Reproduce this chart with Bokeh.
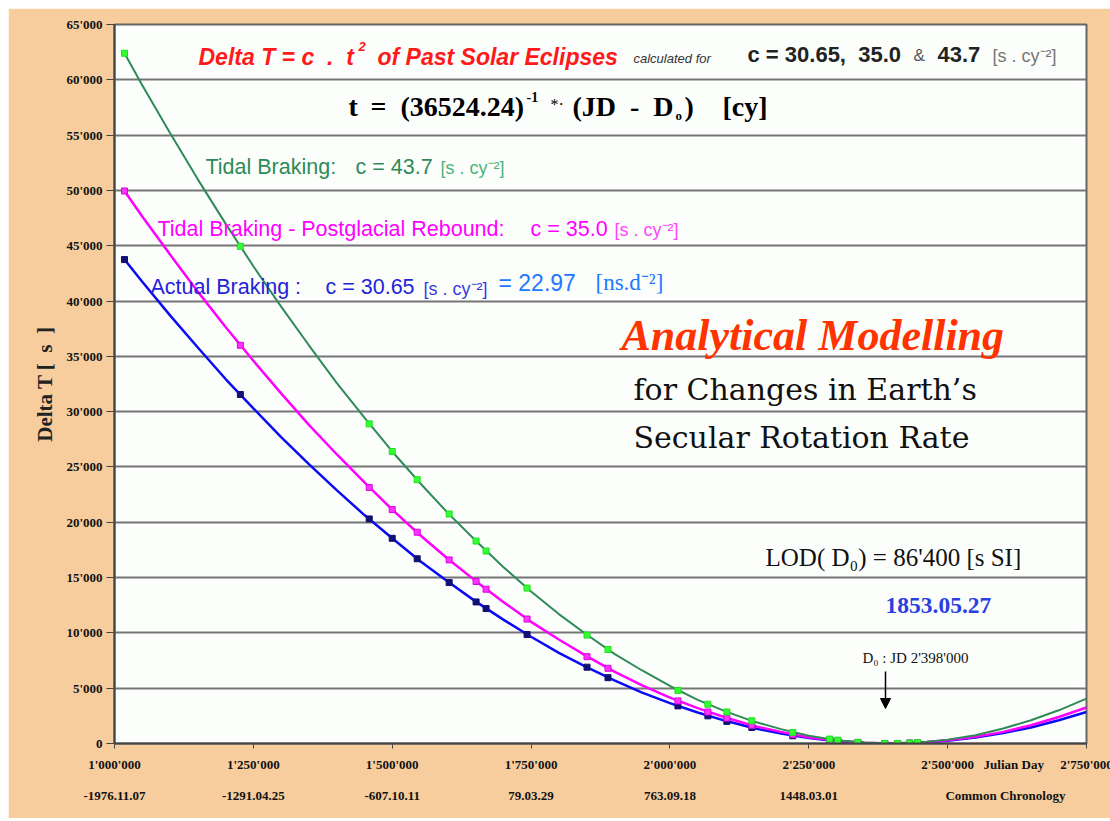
import math
from bokeh.plotting import figure
from bokeh.models import Range1d, FixedTicker, Label, Arrow, NormalHead, LinearAxis
from bokeh.embed import file_html
from bokeh.resources import INLINE

# ---------------- data ----------------
y_ticks = [0, 5000, 10000, 15000, 20000, 25000, 30000, 35000, 40000, 45000, 50000, 55000, 60000, 65000]
y_tick_labels = ["0", "5'000", "10'000", "15'000", "20'000", "25'000", "30'000", "35'000",
                 "40'000", "45'000", "50'000", "55'000", "60'000", "65'000"]
x_ticks = [1000000, 1250000, 1500000, 1750000, 2000000, 2250000, 2500000, 2750000]
x_tick_labels = ["1'000'000", "1'250'000", "1'500'000", "1'750'000", "2'000'000",
                 "2'250'000", "2'500'000", "2'750'000"]
date_labels = ["-1976.11.07", "-1291.04.25", "-607.10.11", "79.03.29", "763.09.18", "1448.03.01"]
x_title = "Julian Day"
x2_title = "Common Chronology"

curve_jd = [1018000, 1050000, 1100000, 1150000, 1200000, 1250000, 1300000, 1350000, 1400000,
            1450000, 1500000, 1550000, 1600000, 1650000, 1700000, 1750000, 1800000, 1850000,
            1900000, 1950000, 2000000, 2050000, 2100000, 2150000, 2200000, 2250000, 2300000,
            2350000, 2398000, 2450000, 2500000, 2550000, 2600000, 2650000, 2700000, 2750000]
green_curve = [62400, 59500, 55200, 51000, 47000, 43150, 39500, 36000, 32600, 29450, 26400, 23550,
               20850, 18350, 15950, 13750, 11700, 9850, 8100, 6600, 5200, 3950, 2900, 2000,
               1300, 700, 300, 80, 0, 90, 350, 750, 1350, 2100, 3000, 4050]
pink_curve = [49950, 47650, 44200, 40850, 37650, 34600, 31650, 28800, 26150, 23600, 21150, 18850,
              16700, 14700, 12800, 11000, 9400, 7900, 6500, 5250, 4150, 3200, 2350, 1600,
              1050, 550, 250, 60, 0, 70, 300, 600, 1050, 1650, 2400, 3250]
blue_curve = [43750, 41750, 38700, 35800, 32950, 30300, 27700, 25250, 22900, 20650, 18550, 16500,
              14650, 12850, 11200, 9650, 8200, 6900, 5700, 4600, 3650, 2800, 2050, 1400,
              900, 500, 200, 50, 0, 60, 250, 550, 950, 1450, 2100, 2850]

eclipse_jd = [1018000, 1226600, 1458600, 1500000, 1545000, 1602500, 1651000, 1669000, 1742800,
              1850700, 1888500, 2014400, 2068300, 2102500, 2147500, 2221200, 2287800, 2302200,
              2338100, 2386700, 2410000, 2431600, 2446000]
green_pts = [62400, 44950, 28900, 26400, 23850, 20750, 18300, 17400, 14050, 9800, 8500, 4800,
             3550, 2850, 2050, 1000, 400, 300, 100, 0, 0, 40, 80]
pink_pts = [49950, 36000, 23150, 21150, 19100, 16600, 14650, 13950, 11250, 7850, 6800, 3850,
            2850, 2300, 1650, 800, 300, 250, 100, 0, 0, 30, 60]
blue_pts = [43750, 31550, 20300, 18550, 16700, 14550, 12800, 12200, 9850, 6900, 5950, 3400,
            2500, 2000, 1450, 700, 300, 200, 80, 0, 0, 30, 50]

# ---------------- layout helpers (page pixel -> data) ----------------
PX_L, PX_R, PY_T, PY_B = 114, 1086, 24, 743
X0, X1, Y0, Y1 = 1000000, 2750000, 0, 65000
SERIF = "Liberation Serif"
SANS = "Liberation Sans"
NB = "\u00a0"


def X(px):
    return X0 + (px - PX_L) * (X1 - X0) / (PX_R - PX_L)


def Y(py):
    return (PY_B - py) * (Y1 - Y0) / (PY_B - PY_T)


p = figure(frame_width=PX_R - PX_L, frame_height=PY_B - PY_T,
           x_range=Range1d(X0, X1), y_range=Range1d(Y0, Y1),
           output_backend="svg", toolbar_location=None,
           min_border_left=PX_L - 8, min_border_right=24,
           min_border_top=PY_T - 8, min_border_bottom=75)
p.margin = (8, 0, 0, 8)

p.border_fill_color = "#F8CD9E"
p.background_fill_color = "#FCFEFC"
p.outline_line_color = "#666666"
p.outline_line_width = 2

p.xgrid.visible = False
p.ygrid.ticker = FixedTicker(ticks=y_ticks)
p.ygrid.grid_line_color = "#757575"
p.ygrid.grid_line_width = 2


def style_axis(ax, size="13px"):
    ax.axis_line_color = "#444444"
    ax.axis_line_width = 2
    ax.major_tick_line_color = "#444444"
    ax.major_tick_in = 0
    ax.minor_tick_line_color = None
    ax.major_label_text_font = SERIF
    ax.major_label_text_font_style = "bold"
    ax.major_label_text_font_size = size
    ax.major_label_text_color = "#111111"


# y axis
yax = p.yaxis[0]
style_axis(yax)
yax.ticker = FixedTicker(ticks=y_ticks)
yax.major_label_overrides = dict(zip(y_ticks, y_tick_labels))
yax.major_tick_out = 8
yax.major_label_standoff = 4
yax.axis_label = "Delta T [" + NB + NB + "s" + NB + NB + "]"
yax.axis_label_text_font = SERIF
yax.axis_label_text_font_style = "bold"
yax.axis_label_text_font_size = "21px"
yax.axis_label_text_color = "#222222"
yax.axis_label_standoff = 6

# x axis 1: axis line and tick marks only
xax = p.xaxis[0]
style_axis(xax)
xax.ticker = FixedTicker(ticks=x_ticks)
xax.major_label_overrides = dict(zip(x_ticks, [""] * len(x_ticks)))
xax.major_label_text_font_size = "1px"
xax.major_tick_out = 5
xax.major_label_standoff = 0

# x axis 2: Julian Day tick labels plus caption
jd_title_pos = int(round(X(1013), -3))
xax1 = LinearAxis()
style_axis(xax1)
xax1.ticker = FixedTicker(ticks=x_ticks + [jd_title_pos])
xax1.major_label_overrides = dict(zip(x_ticks + [jd_title_pos], x_tick_labels + [x_title]))
xax1.axis_line_color = None
xax1.major_tick_line_color = None
xax1.major_tick_out = 0
xax1.major_label_standoff = 8
p.add_layout(xax1, "below")

# x axis 3: calendar dates
cc_pos = int(round(X(1005), -3))
xax2 = LinearAxis()
style_axis(xax2)
xax2.ticker = FixedTicker(ticks=x_ticks[:6] + [cc_pos])
xax2.major_label_overrides = dict(zip(x_ticks[:6] + [cc_pos], date_labels + [x2_title]))
xax2.axis_line_color = None
xax2.major_tick_line_color = None
xax2.major_tick_out = 0
xax2.major_label_standoff = 13
p.add_layout(xax2, "below")

# ---------------- curves ----------------
p.line(curve_jd, blue_curve, line_color="#0A0AF5", line_width=2.5)
p.line(curve_jd, pink_curve, line_color="#FF00FF", line_width=2.5)
p.line(curve_jd, green_curve, line_color="#2E8B57", line_width=2)
p.scatter(eclipse_jd, blue_pts, marker="square", size=6, fill_color="#101075", line_color="#101075")
p.scatter(eclipse_jd, pink_pts, marker="square", size=6, fill_color="#FF33FF", line_color="#E000E0")
p.scatter(eclipse_jd, green_pts, marker="square", size=6, fill_color="#33FF33", line_color="#22DD22")


def lab(text, px, py, size, color="#000000", font=SANS, style="normal", align="left"):
    p.add_layout(Label(x=X(px), y=Y(py), text=text, text_font=font,
                       text_font_size=f"{size}px", text_color=color, text_font_style=style,
                       text_align=align, text_baseline="middle"))


# title lines
lab("Delta T = c" + NB + " ." + NB + " t", 198, 56, 23, "#FF1A1A", style="bold italic")
lab("2", 358, 46, 13, "#FF1A1A", style="bold italic")
lab("of Past Solar Eclipses", 377, 56, 23, "#FF1A1A", style="bold italic")
lab("calculated for", 633, 58, 13, "#333333", style="italic")
lab("c = 30.65," + NB + " 35.0", 747, 54, 22, "#222222", style="bold")
lab("&", 913, 55, 17, "#555555")
lab("43.7", 937, 54, 22, "#222222", style="bold")
lab("[s . cy⁻²]", 992, 55, 18, "#777777")

lab("t", 348, 106, 28, font=SERIF, style="bold")
lab("=", 370, 106, 28, font=SERIF, style="bold")
lab("(36524.24)", 400, 106, 28, font=SERIF, style="bold")
lab("-1", 526, 96, 14, font=SERIF, style="bold")
lab("*·", 550, 104, 16, font=SERIF)
lab("(JD" + NB + NB + "-" + NB + NB + "D", 572, 106, 28, font=SERIF, style="bold")
lab("o", 675, 115, 13, font=SERIF, style="bold")
lab(")", 684, 106, 28, font=SERIF, style="bold")
lab("[cy]", 722, 106, 28, font=SERIF, style="bold")

# series annotations
lab("Tidal Braking:", 205, 166, 21.5, "#2E8B57")
lab("c = 43.7", 355, 166, 21.5, "#2E8B57")
lab("[s . cy⁻²]", 440, 167, 18, "#4DB37A")
lab("Tidal Braking - Postglacial Rebound:", 157, 228, 21.5, "#FF00FF")
lab("c = 35.0", 530, 228, 21.5, "#FF00FF")
lab("[s . cy⁻²]", 614, 229, 18, "#FF44FF")
lab("Actual Braking :", 150, 286, 21.5, "#2323D8")
lab("c = 30.65", 325, 286, 21.5, "#2323D8")
lab("[s . cy⁻²]", 423, 288, 18, "#3A3AE0")
lab("= 22.97", 498, 282, 23, "#1E78FF")
lab("[ns.d⁻²]", 595, 282, 23, "#1E78FF", font=SERIF)

# model description
lab("Analytical Modelling", 621, 335, 44, "#FF3300", font=SERIF, style="bold italic")
lab("for Changes in Earth’s", 633, 389, 30, "#111111", font="DejaVu Serif")
lab("Secular Rotation Rate", 633, 437, 30, "#111111", font="DejaVu Serif")
lab("LOD( D₀) = 86'400 [s SI]", 765, 557, 25, "#111111", font=SERIF)
lab("1853.05.27", 885, 605, 23.5, "#2A3FE0", font=SERIF, style="bold")
lab("D₀ : JD 2'398'000", 862, 657, 15, "#111111", font=SERIF)
p.add_layout(Arrow(end=NormalHead(size=10, fill_color="black", line_color="black"),
                   x_start=X(885), y_start=Y(671), x_end=X(885), y_end=Y(708),
                   line_color="black", line_width=1.5))

open("out.html", "w").write(file_html(p, INLINE))
